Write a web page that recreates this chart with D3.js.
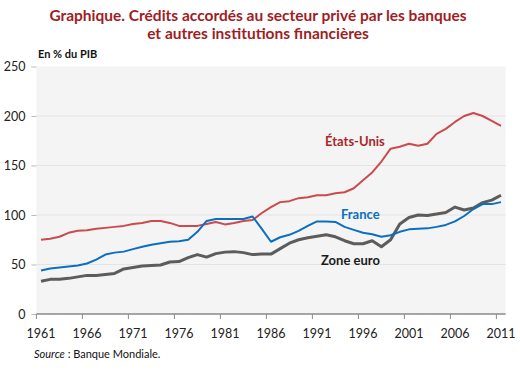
<!DOCTYPE html>
<html>
<head>
<meta charset="utf-8">
<script src="https://cdn.jsdelivr.net/npm/d3@7"></script>
<style>
  body { margin: 0; background: #fff; }
  svg { font-family: Lato, "Open Sans", sans-serif; }
</style>
</head>
<body>
<div id="chart"></div>
<script>
// Data (% of GDP)
const years = d3.range(1961, 2012);
const tick_years = [1961, 1966, 1971, 1976, 1981, 1986, 1991, 1996, 2001, 2006, 2011];
const y_ticks = [0, 50, 100, 150, 200, 250];

const etats_unis = [75, 76, 78, 82, 84, 84.5, 86, 87, 88, 89, 91,
  92, 94, 94, 92, 89, 89, 89, 91, 93, 90.5,
  92, 94, 95, 102, 108, 113, 114, 117, 118, 120,
  120, 122, 123, 127, 135, 143, 154, 167, 169, 172,
  170, 172, 182, 187, 194, 200, 203, 200, 195, 190];

const france = [44, 46, 47, 48, 49, 51, 55, 60, 62, 63, 65.5,
  68, 70, 71.5, 73, 73.5, 75, 83, 94, 96, 96,
  96, 96, 98.5, 86, 73, 77.5, 80, 84, 89, 93.5,
  93.5, 93, 88, 85, 82, 80.5, 78, 79.5, 83, 85.5,
  86, 86.5, 88, 90, 93.5, 99, 106, 111, 111, 113];

const zone_euro = [33, 35, 35, 36, 37.5, 39, 39, 40, 41, 45.5, 47,
  48.5, 49, 49.5, 52.5, 53, 57, 60, 57.5, 61, 62.5,
  63, 62, 60, 60.5, 60.5, 66, 71.5, 75, 77, 78.5,
  80, 78, 74, 71, 71, 74, 68, 75, 91, 97.5,
  100, 99.5, 101, 102.5, 108, 105, 107, 112.5, 115, 120];

const width = 520, height = 375;

let svg = d3.select("#chart")
.append("svg")
.attr("width", width)
.attr("height", height);

let x = d3.scaleBand()
.domain(years)
.range([36.4, 505.6])
.padding(0);

let y = d3.scaleLinear()
.domain([0, 250])
.range([314, 66.5]);

const xc = d => x(d) + x.bandwidth() / 2;

// Title
svg.append("text")
.attr("x", 258).attr("y", 21)
.attr("text-anchor", "middle")
.style("font-size", "15.5px").style("font-weight", "bold")
.style("fill", "#a01d24")
.text("Graphique. Crédits accordés au secteur privé par les banques");

svg.append("text")
.attr("x", 258).attr("y", 39)
.attr("text-anchor", "middle")
.style("font-size", "15.5px").style("font-weight", "bold")
.style("fill", "#a01d24")
.text("et autres institutions financières");

svg.append("text")
.attr("x", 38).attr("y", 58)
.style("font-size", "11px").style("font-weight", "bold")
.style("fill", "#111")
.text("En % du PIB");

// Plot background
svg.append("rect")
.attr("x", x.range()[0])
.attr("y", y(250))
.attr("width", x.range()[1] - x.range()[0])
.attr("height", y(0) - y(250))
.style("fill", "#f4f4f4");

// Grid lines
svg.append("g")
.selectAll("line")
.data(y_ticks.filter(d => d > 0 && d < 250))
.enter()
.append("line")
.attr("x1", x.range()[0]).attr("x2", x.range()[1])
.attr("y1", d => y(d)).attr("y2", d => y(d))
.style("stroke", "#e4e4e4").style("stroke-width", 1);

// Y axis
let y_axis = svg.append("g")
.attr("transform", "translate(" + x.range()[0] + ",0)")
.call(d3.axisLeft(y).tickValues(y_ticks).tickSize(5).tickPadding(6));
y_axis.select(".domain").remove();
y_axis.selectAll(".tick line").style("stroke", "#bbb");
y_axis.selectAll(".tick text")
.style("font-size", "12.5px").style("fill", "#222")
.style("font-family", "Lato, sans-serif");

// X axis
svg.append("line")
.attr("x1", x.range()[0]).attr("x2", x.range()[1])
.attr("y1", y(0)).attr("y2", y(0))
.style("stroke", "#8a8a8a").style("stroke-width", 1.3);

svg.append("g")
.selectAll("line")
.data(tick_years)
.enter()
.append("line")
.attr("x1", d => x(d)).attr("x2", d => x(d))
.attr("y1", y(0)).attr("y2", y(0) + 5)
.style("stroke", "#8a8a8a");

svg.append("g")
.selectAll("text")
.data(tick_years)
.enter()
.append("text")
.attr("x", d => xc(d))
.attr("y", 338)
.attr("text-anchor", "middle")
.style("font-size", "12.5px").style("fill", "#222")
.text(d => d);

// Lines
const series = [
  {name: "zone_euro", values: zone_euro, color: "#5c5c5c", w: 3},
  {name: "etats_unis", values: etats_unis, color: "#cc4a4c", w: 2},
  {name: "france", values: france, color: "#0a6fc0", w: 2}
];

let line = d3.line()
.x(d => xc(d.year))
.y(d => y(d.value));

svg.append("g")
.selectAll("path")
.data(series)
.enter()
.append("path")
.attr("d", s => line(years.map((yr, i) => ({year: yr, value: s.values[i]}))))
.style("fill", "none")
.style("stroke", s => s.color)
.style("stroke-width", s => s.w)
.style("stroke-linejoin", "round");

// Series labels
const labels = [
  {text: "États-Unis", x: 325, y: 146, color: "#a8282c"},
  {text: "France", x: 341, y: 219, color: "#0a6fc0"},
  {text: "Zone euro", x: 321, y: 265, color: "#1a1a1a"}
];

svg.append("g")
.selectAll("text")
.data(labels)
.enter()
.append("text")
.attr("x", d => d.x).attr("y", d => d.y)
.style("font-size", "13px").style("font-weight", "bold")
.style("fill", d => d.color)
.text(d => d.text);

// Source
let src = svg.append("text")
.attr("x", 34).attr("y", 358)
.style("font-size", "11px").style("fill", "#111");
src.append("tspan").style("font-style", "italic").text("Source");
src.append("tspan").text(" : Banque Mondiale.");
</script>
</body>
</html>
